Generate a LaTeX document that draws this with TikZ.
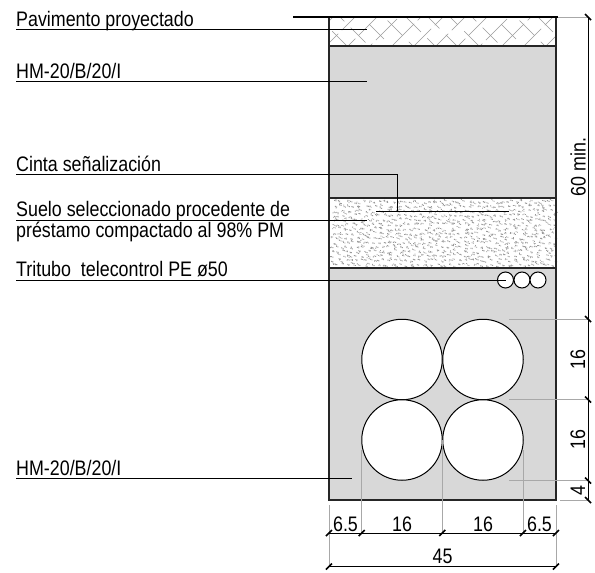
\documentclass[tikz,border=0pt]{standalone}
\usepackage{fontspec}
\setmainfont[FakeStretch=0.85]{Liberation Sans}
\definecolor{conc}{HTML}{D8D8D8}
\definecolor{dimgray}{HTML}{A8A8A8}
\definecolor{hatchgray}{HTML}{9A9A9A}
\definecolor{dotgray}{HTML}{9A9A9A}
\tikzset{
  lbl/.style={font=\fontsize{21}{21}\selectfont,inner sep=0pt,anchor=base west,text=black},
  dimlbl/.style={font=\fontsize{21}{21}\selectfont,inner sep=0pt,text=black},
  leader/.style={draw=black,line width=0.9pt},
  ext/.style={draw=dimgray,line width=0.9pt},
  dimline/.style={draw=black,line width=0.8pt},
  tick/.style={draw=black,line width=1.6pt},
  outline/.style={draw=black!85,line width=1.2pt},
  pipe/.style={circle,draw=black,fill=white,line width=1pt,inner sep=0pt},
}
\begin{document}
\begin{tikzpicture}[x=1pt,y=-1pt]
\useasboundingbox (0,0) rectangle (595,573);
\fill[white] (0,0) rectangle (595,573);
% layers
\fill[conc] (329,46) rectangle (556,500);
\fill[white] (329,17) rectangle (556,46);
\fill[white] (329,198) rectangle (556,268);
% paving hatch
\begin{scope}
\clip (329,17) rectangle (556,46);
\foreach \k in {0,...,12}{
  \pgfmathsetmacro{\xa}{300+22*\k}
  \draw[hatchgray,line width=0.6pt,dash pattern=on 30pt off 5pt,dash phase=\k*7pt] (\xa,50) -- +(40,-40);
  \draw[hatchgray,line width=0.6pt,dash pattern=on 21pt off 9pt,dash phase=\k*5pt] (\xa+11,10) -- +(40,40);
}
\end{scope}
% stipple: jittered grid of small dot clusters
\pgfmathsetseed{4711}
\foreach \gy in {0,...,14}{
  \foreach \gx in {0,...,49}{
    \pgfmathsetmacro{\px}{330.5+4.5*\gx+4.5*rnd}
    \pgfmathsetmacro{\py}{199.5+4.5*\gy+3.5*rnd}
    \pgfmathsetmacro{\qx}{\px+3*rnd-1.5}
    \pgfmathsetmacro{\qy}{\py+3*rnd-1.5}
    \fill[dotgray] (\px,\py) rectangle +(0.9,0.9) (\qx,\qy) rectangle +(0.9,0.9) (\px+1.4,\py+0.5) rectangle +(0.9,0.9);
  }
}
% outlines
\draw[outline] (329,17) rectangle (556,500);
\draw[outline] (329,46) -- (556,46);
\draw[outline] (329,198) -- (556,198);
\draw[outline] (329,268) -- (556,268);
% pipes
\node[pipe,minimum size=80.5pt] (c1) at (402,359.5) {};
\node[pipe,minimum size=80.5pt] (c2) at (483,359.5) {};
\node[pipe,minimum size=80.5pt] (c3) at (402,440) {};
\node[pipe,minimum size=80.5pt] (c4) at (483,440) {};
\node[pipe,minimum size=16pt] (t1) at (505.5,280) {};
\node[pipe,minimum size=16pt] (t2) at (522,280) {};
\node[pipe,minimum size=16pt] (t3) at (538,280) {};
% labels
\node[lbl] (lp) at (16,26.5) {Pavimento proyectado};
\node[lbl] (lh) at (16,78) {HM-20/B/20/I};
\node[lbl] (lc) at (16,171) {Cinta señalización};
\node[lbl] (ls) at (16,216.5) {Suelo seleccionado procedente de};
\node[lbl] (lq) at (16,237) {préstamo compactado al 98\% PM};
\node[lbl] (lt) at (16,276) {Tritubo\ \ telecontrol PE ø50};
\node[lbl] (lb) at (16,475) {HM-20/B/20/I};
% leaders
\coordinate (a1) at (16,29);   \coordinate (b1) at (367,29);
\coordinate (a2) at (16,81);   \coordinate (b2) at (367,81);
\coordinate (a3) at (16,174);  \coordinate (k3) at (397,174); \coordinate (b3) at (397,211);
\coordinate (m3) at (376,211); \coordinate (n3) at (509,211);
\coordinate (a4) at (16,220);  \coordinate (b4) at (367,220);
\coordinate (a5) at (16,280);
\coordinate (a6) at (16,478);  \coordinate (b6) at (352,478);
\draw[leader] (a1) -- (b1);
\draw[leader] (a2) -- (b2);
\draw[leader] (a3) -- (k3) -- (b3);
\draw[leader] (m3) -- (n3);
\draw[leader] (a4) -- (b4);
\draw[leader] (a5) -- (t1.center);
\draw[leader] (a6) -- (b6);
% vertical dimension
\coordinate (v0) at (588,17);
\coordinate (v1) at (588,319);
\coordinate (v2) at (588,399.5);
\coordinate (v3) at (588,480.5);
\coordinate (v4) at (588,500);
\draw[ext] (556,17) -- (v0);
\draw[ext] (509,319) -- (v1);
\draw[ext] (509,399.5) -- (v2);
\draw[ext] (509,480.5) -- (v3);
\draw[ext] (560,500) -- (v4);
\draw[dimline] (v0) -- (v4);
\foreach \c in {v0,v1,v2,v3,v4}
  \draw[tick] ([shift={(-3,-3)}]\c) -- ([shift={(3,3)}]\c);
\draw[draw=black,line width=2pt] (293,16.5) -- (558,16.5);
\node[dimlbl,rotate=90] (d60) at (578,167) {60 min.};
\node[dimlbl,rotate=90] (d16a) at (578,359.5) {16};
\node[dimlbl,rotate=90] (d16b) at (578,439.5) {16};
\node[dimlbl,rotate=90] (d4) at (578,490.5) {4};
% horizontal dimensions
\coordinate (h0) at (329,533);
\coordinate (h1) at (361.7,533);
\coordinate (h2) at (442.3,533);
\coordinate (h3) at (523,533);
\coordinate (h4) at (556,533);
\coordinate (g0) at (329,566.5);
\coordinate (g1) at (556,566.5);
\draw[ext] (329,505) -- (g0);
\draw[ext] (556,505) -- (g1);
\draw[ext] (361.7,450) -- (h1);
\draw[ext] (442.3,440) -- (h2);
\draw[ext] (523,450) -- (h3);
\draw[dimline] (h0) -- (h4);
\draw[dimline] (g0) -- (g1);
\foreach \c in {h0,h1,h2,h3,h4,g0,g1}
  \draw[tick] ([shift={(-3,3)}]\c) -- ([shift={(3,-3)}]\c);
\node[dimlbl] (w1) at (345.5,524) {6.5};
\node[dimlbl] (w2) at (402,524) {16};
\node[dimlbl] (w3) at (483,524) {16};
\node[dimlbl] (w4) at (539.5,524) {6.5};
\node[dimlbl] (w5) at (442.5,556.5) {45};
\end{tikzpicture}
\end{document}
